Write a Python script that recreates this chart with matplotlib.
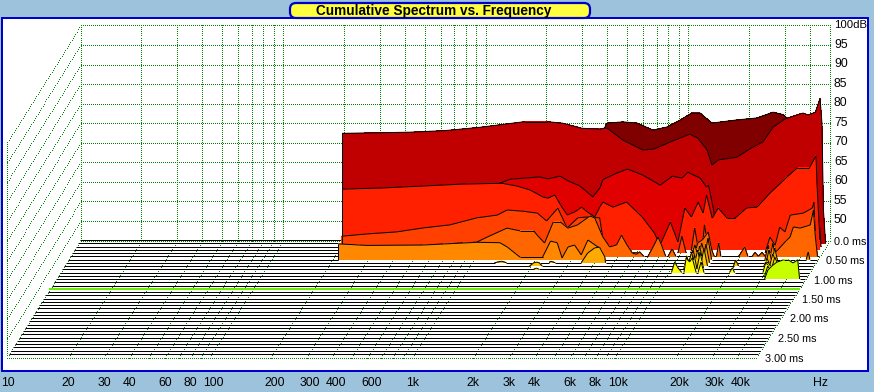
import numpy as np
import matplotlib
matplotlib.use('Agg')
import matplotlib.pyplot as plt
from matplotlib.patches import FancyBboxPatch, Rectangle

plt.rcParams['font.family'] = ['Liberation Sans', 'DejaVu Sans']

# ---------- tick labels ----------
grid_freqs = [10, 20, 30, 40, 50, 60, 70, 80, 90, 100, 200, 300, 400, 500, 600, 700, 800, 900,
              1000, 2000, 3000, 4000, 5000, 6000, 7000, 8000, 9000, 10000, 20000, 30000, 40000, 50000]
freq_ticks = [10, 20, 30, 40, 60, 80, 100, 200, 300, 400, 600, 1000, 2000, 3000, 4000, 6000, 8000,
              10000, 20000, 30000, 40000]
freq_labels = ['10', '20', '30', '40', '60', '80', '100', '200', '300', '400', '600', '1k', '2k',
               '3k', '4k', '6k', '8k', '10k', '20k', '30k', '40k']
db_ticks = [100, 95, 90, 85, 80, 75, 70, 65, 60, 55, 50]
time_labels = ['0.0 ms', '0.50 ms', '1.00 ms', '1.50 ms', '2.00 ms', '2.50 ms', '3.00 ms']

# ---------- waterfall slices, back to front (Hz / dB) ----------
f0 = [200, 944, 3290, 3890, 4000, 4800, 5640, 6750, 7930, 9220, 10500, 11500, 13200, 17500, 22000,
      26500, 29800, 31400, 36000, 46000, 46800]
db0 = [71, 72.4, 72.9, 73.6, 74.9, 75.2, 74.9, 73.1, 73.9, 75.7, 77.5, 77.5, 74.9, 75.7, 76.2,
       77.7, 77, 75.9, 73.6, 65, 45]

f1 = [202, 435, 648, 966, 1610, 2070, 2480, 3080, 3780, 4090, 4910, 6160, 6980, 8400, 10500, 11500,
      12800, 13500, 14500, 17900, 21500, 24100, 27100, 31000, 38000, 40300, 43800, 46200, 47200,
      48000, 49200]
db1 = [73.1, 73.4, 73.8, 74.65, 76.1, 76.1, 75.7, 74.4, 74.2, 74.5, 71.4, 68.85, 69.1, 70.9, 72.9,
       71.9, 68.85, 65, 66.3, 67, 69.6, 70.9, 74.7, 76.8, 78.3, 77.8, 78.5, 82, 75.7, 53.5, 45]

f2 = [207, 1210, 1240, 1390, 1950, 2140, 2460, 2690, 3080, 3570, 3870, 4000, 4690, 5300, 6280, 7680,
      8820, 9830, 10500, 12100, 13000, 13300, 14000, 14500, 38500, 47200, 47800]
db2 = [58.2, 59.45, 61.2, 62.2, 62.8, 62.3, 63, 61.8, 60.5, 57.7, 60, 62.1, 63.8, 64.8, 63.3, 60.7,
       63, 62.5, 64, 62.5, 60.2, 60.7, 55.1, 50.5, 49.7, 49.7, 45]

f3 = [212, 332, 529, 835, 1300, 1540, 1790, 2070, 2190, 2370, 2570, 2730, 2980, 3210, 3430, 3730,
      3950, 4090, 4590, 5360, 6400, 7350, 7840, 8820, 9610, 10400, 11200, 12100, 12800, 13300, 14200,
      15200, 16800, 18400, 21000, 23600, 27400, 33200, 37400, 42900, 46200, 46700, 48300]
db3 = [60.5, 60.8, 61.3, 61.8, 62, 61.3, 60.3, 58.5, 58.2, 59, 55.9, 53.9, 54.7, 55.9, 54.7, 53.4,
       55.9, 57.2, 55.9, 57.2, 53.4, 49.3, 46.2, 52.1, 47, 55.7, 53.4, 57.2, 54.4, 59, 53.1,
       55.7, 53.1, 53.1, 55.7, 55.9, 59.5, 63.6, 66, 66, 69, 62.1, 47.5]

f4 = [215, 290, 402, 541, 736, 1000, 1260, 1410, 1680, 1990, 2210, 2510, 2790, 3150, 3470, 4040, 4200,
      4560, 6370, 9230, 9830, 10290, 10800, 11400, 11900, 12500, 12900, 13300, 14000, 26500, 28000,
      29700, 31300, 33200, 35300, 40900, 45300, 46200, 47200, 48000]
db4 = [49.3, 49.9, 50.4, 51.4, 52.2, 54, 54.7, 56, 55.7, 55.2, 53.2, 56.5, 51.4, 54, 54.2, 54, 48.3,
       45.3, 45, 45, 45, 49.3, 45, 45, 51.4, 45, 45, 52.2, 45, 45, 49.1,
       47, 51.6, 50.4, 54.7, 55.2, 56.5, 58, 45.3, 45]

f5 = [215, 1020, 1150, 1440, 1670, 1950, 2090, 2210, 2440, 2640, 2880, 3210, 3700, 3910, 4280, 4630,
      5010, 5300, 5640, 6000, 6280, 6520, 6830, 7160, 7590, 8030, 8350, 8760, 9000, 9430, 9830,
      12100, 12600, 13300, 14200, 14800, 15200, 15600, 16000, 16400, 20100, 21500, 22300, 23400, 24200,
      25100, 26200, 27100, 28700, 31300, 34800, 36000, 37400, 40400, 45300, 47000, 48000, 49200]
db5 = [46.6, 48.6, 49.9, 52.2, 51.5, 51.5, 49.7, 48.4, 53.8, 53.8, 52.2, 53, 55.3, 54.8, 50, 47.4,
       47.9, 50.4, 47.9, 45.8, 45.5, 46.1, 45, 45, 47.4, 49.9, 47.9, 45, 45, 46.9, 45,
       45, 48.4, 49.2, 51.2, 46.6, 45, 45, 48.4, 45, 45, 47.4, 45, 45, 46,
       45, 46, 45, 45, 46.6, 49.2, 49.9, 52.5, 52.2, 53, 56.8, 50.2, 45]

f6 = [217, 300, 565, 1050, 1360, 1480, 1710, 2210, 2420, 2610, 2760, 2950, 3180, 3430, 3700, 4230, 4500,
      11800, 12500, 13000, 13500, 14000, 14500, 15100, 27700, 28700, 29300, 30350, 31300,
      44300, 45300, 46200]
db6 = [49, 48.6, 48.7, 49.4, 49.3, 48.2, 45.6, 45.6, 49.7, 49.3, 45.4, 48.2, 48.7, 46.2, 50, 47.9, 45,
       45, 48.7, 45.4, 49.2, 46.2, 50.5, 45, 45, 48.7, 45.4, 49.2, 45,
       45, 46.9, 45]

f7 = [1310, 1420, 1500, 2440, 2480, 2610, 3510, 3780, 4090, 4320, 4590, 4630, 12200, 12500, 13000, 13500,
      14000, 14500, 15100, 28700, 29700, 30700, 31700, 32900]
db7 = [45, 45.4, 45, 45, 45.4, 45, 45, 47.5, 48.8, 49, 46.5, 45, 45, 48.3, 45.2, 49.3,
       45.2, 49.8, 45, 45, 48.3, 45.2, 48.8, 45]

f8 = [2000, 2090, 2170, 2230, 2300, 12100, 12600, 13000, 13500, 14000, 14500, 15100, 20300, 20800, 21500,
      28700, 29700, 30700, 31700, 33600]
db8 = [45, 45.8, 46, 45.8, 45, 45, 48.6, 45.3, 49.1, 45.3, 49.6, 45, 45, 46.5, 45,
       45, 47, 45.3, 48.1, 45]

f9 = [2140, 2210, 2270, 11800, 12200, 12800, 13300, 13700, 14200, 14800, 29700, 30700, 32100, 33200, 35300]
db9 = [45, 45.3, 45, 45, 48.4, 45.1, 48.6, 45.1, 49.4, 45, 45, 46.9, 45.3, 48.1, 45]

f10 = [10500, 10890, 11300, 11800, 12100, 12400, 12900, 13300, 13900, 14200, 14700, 15200, 20300, 21000,
       21500, 29700, 30700, 32900]
db10 = [45, 47.7, 46.2, 45, 45, 48.7, 47.7, 48.7, 45, 45, 47.7, 45, 45, 46.2, 45, 45, 47.7, 45]

f11 = [31000, 32100, 33600]
db11 = [45, 47.5, 45]

f12 = [31700, 32900, 34400, 36400, 39300, 41500, 43800, 46200, 47200]
db12 = [45, 47.3, 48.3, 49.3, 49.9, 49.9, 49.1, 49.9, 45]

slice_f = [f0, f1, f2, f3, f4, f5, f6, f7, f8, f9, f10, f11, f12]
slice_db = [db0, db1, db2, db3, db4, db5, db6, db7, db8, db9, db10, db11, db12]
slice_colors = ['#800000', '#c00000', '#e00000', '#ff2000', '#ff4000', '#ff6600', '#ff8800',
                '#ffaa00', '#ffc800', '#ffe000', '#ffff00', '#e8ff00', '#c8ff00']
n_slices = 36
green_slice = 15


# projection of the 3d box on to the picture
def px(f, i=0):
    return 80 + 202.5 * np.log10(np.asarray(f, dtype=float) / 10) - 2.03 * i


def py(db, i=0):
    return 240 + 3.25 * i - (np.asarray(db, dtype=float) - 45) * 3.91


bg = '#9dc3dc'
blue = '#0000cc'
dot = '#008000'
line_w = 0.72
fig = plt.figure(figsize=(8.74, 3.92), dpi=100, facecolor=bg)
ax = fig.add_axes([0, 0, 1, 1])
ax.set_xlim(0, 874)
ax.set_ylim(392, 0)
ax.axis('off')

ax.add_patch(Rectangle((2, 18), 866, 353, fc='white', ec=blue, lw=1.44, zorder=0, aa=False))


def dotted(x, y):
    # one pixel on, one pixel off
    n = int(max(abs(x[1] - x[0]), abs(y[1] - y[0])) / 2)
    xs = np.floor(np.linspace(x[0], x[1], n + 1)) + 0.5
    ys = np.floor(np.linspace(y[0], y[1], n + 1)) + 0.5
    ax.plot(xs, ys, 's', ms=0.72, mew=0, color=dot, aa=False, zorder=1)


def black(x, y, z):
    ax.plot(x, y, color='black', lw=line_w, zorder=z, solid_capstyle='butt')


# back wall + left wall + floor grid
for db in db_ticks + [45]:
    dotted([px(10), px(50000)], [py(db), py(db)])
for db in db_ticks:
    dotted([px(10), px(10, 36)], [py(db), py(db, 36)])
for f in grid_freqs:
    dotted([px(f), px(f)], [py(100), py(45)])
    dotted([px(f), px(f, 36)], [py(45), py(45, 36)])
dotted([px(10, 36), px(50000, 36)], [py(45, 36), py(45, 36)])
dotted([px(10, 36), px(10, 36)], [py(100, 36), py(45, 36)])

# slices, drawn from the back to the front
for i in range(n_slices):
    z = 2 + i
    if i == green_slice:
        ax.plot([px(10, i), px(50000, i)], [py(45, i), py(45, i)], color='#66ee00', lw=1.44, zorder=z)
        continue
    if i >= len(slice_f):
        black([px(10, i), px(50000, i)], [py(45, i), py(45, i)], z)
        continue
    f = np.array(slice_f[i], dtype=float)
    db = np.array(slice_db[i], dtype=float)
    xs = px(f, i)
    ys = py(db, i)
    ax.fill(np.r_[xs[0], xs, xs[-1]], np.r_[py(45, i), ys, py(45, i)], fc=slice_colors[i], ec='none', aa=False, zorder=z)
    black([px(10, i), xs[0]], [py(45, i), py(45, i)], z)
    black([xs[0], xs[0]], [py(45, i), ys[0]], z)
    for k in range(len(f) - 1):
        # the first slices show no outline where they lie flat on the floor
        if i < 5 and db[k] <= 45 and db[k + 1] <= 45:
            continue
        black(xs[k:k + 2], ys[k:k + 2], z)
    if i >= 5:
        black([xs[-1], px(50000, i)], [py(45, i), py(45, i)], z)

# title
ax.add_patch(FancyBboxPatch((290, 3), 300, 15, boxstyle='round,pad=0,rounding_size=6', fc='#ffff40', ec=blue,
                            lw=1.6, zorder=60))
ax.text(434, 10.5, 'Cumulative Spectrum vs. Frequency', ha='center', va='center', fontsize=9.8,
        fontweight='bold', zorder=61)

# labels
for db in db_ticks:
    ax.text(834, py(db), '100dB' if db == 100 else str(db), ha='left', va='center',
            fontsize=8.2 if db == 100 else 8.8, zorder=61)
for k, lab in enumerate(time_labels):
    x = 834 if k == 0 else 838 - 12.1 * k
    ax.text(x, 241.5 + 19.5 * k, lab, ha='left', va='center', fontsize=7.8, zorder=61)
for f, lab in zip(freq_ticks, freq_labels):
    ax.text(px(f, 36) - 6, 383, lab, ha='left', va='center', fontsize=8.8, zorder=61)
ax.text(821, 383, 'Hz', ha='center', va='center', fontsize=8.8, zorder=61)

fig.savefig('out.png', dpi=100, facecolor=bg)
